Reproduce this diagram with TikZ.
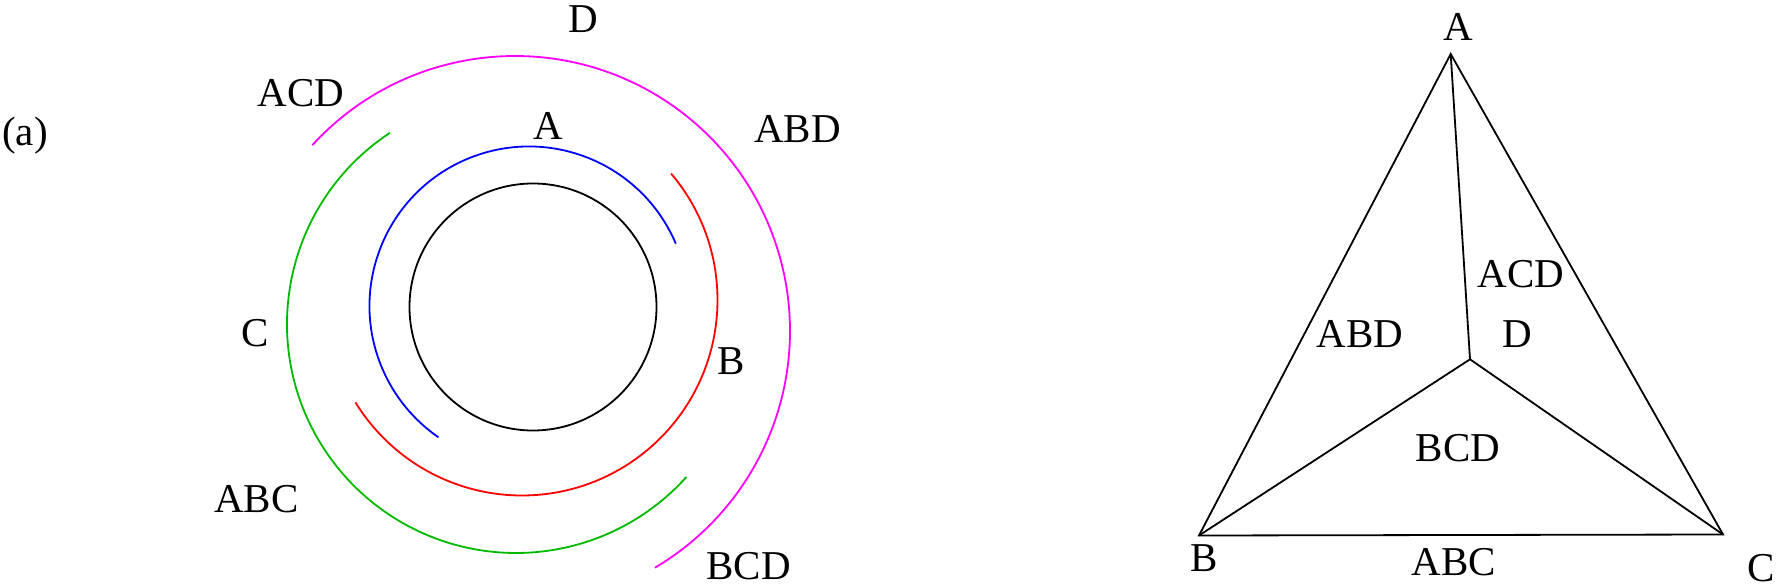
\documentclass[tikz,border=0pt]{standalone}
\usepackage{fontspec}
\setmainfont{Liberation Serif}
\begin{document}
\begin{tikzpicture}[x=1pt,y=1pt,
  lbl/.style={inner sep=0pt,outer sep=0pt,anchor=center,font=\fontsize{41}{49}\selectfont},
  ln/.style={line width=1.8pt},
  arcln/.style={line width=1.8pt}]
\definecolor{mag}{RGB}{255,0,255}
\definecolor{grn}{RGB}{0,185,0}
\useasboundingbox (0,0) rectangle (1781,-585);
% ---- left: circle with arcs ----
\coordinate (c0) at (533,-307);
\coordinate (cb) at (529,-306);
\coordinate (cr) at (522,-300);
\coordinate (cg) at (516,-324);
\coordinate (cm) at (515,-331);
\draw[ln] (c0) circle[radius=123.5];
\draw[arcln,blue] (cb) ++(23:159.5) arc[start angle=23,end angle=235.4,radius=159.5];
\draw[arcln,red] (cr) ++(40.3:195.5) arc[start angle=40.3,end angle=-148.4,radius=195.5];
\draw[arcln,grn] (cg) ++(123.4:229) arc[start angle=123.4,end angle=318.1,radius=229];
\draw[arcln,mag] (cm) ++(137.5:275) arc[start angle=137.5,end angle=-59.4,radius=275];
\node[lbl] (la) at (25,-136) {(a)};
\node[lbl] (lD) at (583,-19) {D};
\node[lbl] (lACD) at (301,-93) {ACD};
\node[lbl] (lA) at (548,-126) {A};
\node[lbl] (lABD) at (797.5,-129) {ABD};
\node[lbl] (lC) at (255.5,-333) {C};
\node[lbl] (lB) at (731,-361) {B};
\node[lbl] (lABC) at (256.5,-499) {ABC};
\node[lbl] (lBCD) at (748.5,-566) {BCD};
% ---- right: triangle ----
\coordinate (A) at (1450.7,-54);
\coordinate (B) at (1199,-535.5);
\coordinate (C) at (1723,-534.5);
\coordinate (D) at (1470,-359.3);
\draw[ln,line join=miter] (A) -- (B) -- (C) -- cycle;
\draw[ln] (A) -- (D);
\draw[ln] (B) -- (D);
\draw[ln] (D) -- (C);
\node[lbl] (tA) at (1458,-27) {A};
\node[lbl] (tB) at (1204,-558) {B};
\node[lbl] (tC) at (1761,-568.5) {C};
\node[lbl] (tD) at (1517,-334) {D};
\node[lbl] (tABD) at (1360,-334) {ABD};
\node[lbl] (tACD) at (1521,-274) {ACD};
\node[lbl] (tBCD) at (1458,-448) {BCD};
\node[lbl] (tABC) at (1454,-562) {ABC};
\end{tikzpicture}
\end{document}
